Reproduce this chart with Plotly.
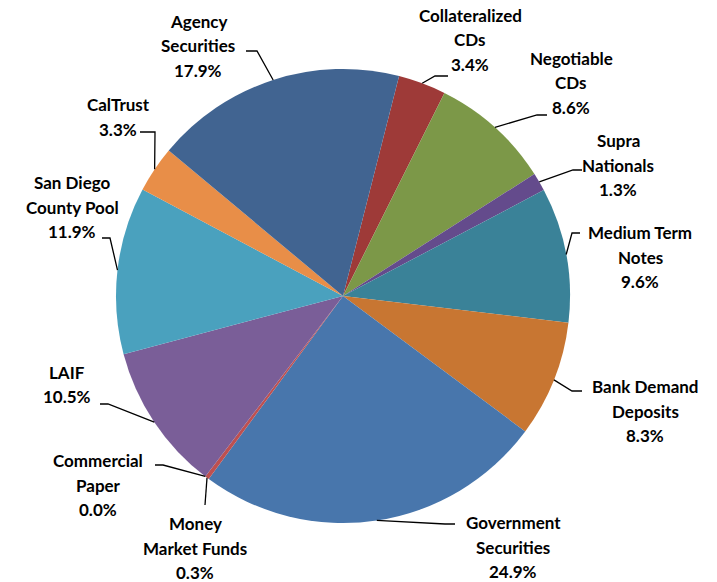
import math
import plotly.graph_objects as go

# ---- data ----
categories = ["Collateralized CDs", "Negotiable CDs", "Supra Nationals", "Medium Term Notes",
              "Bank Demand Deposits", "Government Securities", "Money Market Funds",
              "Commercial Paper", "LAIF", "San Diego County Pool", "CalTrust", "Agency Securities"]
values = [3.4, 8.6, 1.3, 9.6, 8.3, 24.9, 0.3, 0.0, 10.5, 11.9, 3.3, 17.9]
label_lines = [["Collateralized", "CDs"], ["Negotiable", "CDs"], ["Supra", "Nationals"],
               ["Medium Term", "Notes"], ["Bank Demand", "Deposits"], ["Government", "Securities"],
               ["Money", "Market Funds"], ["Commercial", "Paper"], ["LAIF"],
               ["San Diego", "County Pool"], ["CalTrust"], ["Agency", "Securities"]]
colors = ["#9E3A38", "#7C9848", "#644B8C", "#3A8298", "#C87632", "#4876AC",
          "#BE5050", "#7C9848", "#7A5E98", "#4AA1BE", "#E88E48", "#416491"]

# ---- layout (pixels) ----
W, H = 717, 582
CX, CY, R = 343, 296, 227
ROT = 14.3
LINE_H = 24.5
# label centre (x, y of middle line) and leader start/elbow points
label_pos = {
    "Collateralized CDs": (470, 40, [(448, 76), (435, 76)]),
    "Negotiable CDs": (571, 83, [(547, 115), (537, 115)]),
    "Supra Nationals": (618, 165, [(582, 170), (573, 170)]),
    "Medium Term Notes": (640, 257, [(580, 233), (572, 233)]),
    "Bank Demand Deposits": (645, 411, [(582, 391), (572, 391)]),
    "Government Securities": (513, 547, [(455, 524), (445, 524)]),
    "Money Market Funds": (195, 548, [(205, 505)]),
    "Commercial Paper": (98, 485, [(155, 465), (163, 465)]),
    "LAIF": (67, 384.5, [(100, 404), (108, 404)]),
    "San Diego County Pool": (72, 207, [(102, 238), (110, 238)]),
    "CalTrust": (118, 117, [(140, 132), (155, 132)]),
    "Agency Securities": (198, 46, [(246, 51), (257, 51)]),
}

def px(x, y):
    return x / W, 1 - y / H

fig = go.Figure(go.Pie(
    labels=categories, values=values, sort=False, direction="clockwise",
    rotation=ROT, textinfo="none", hoverinfo="label+percent",
    marker=dict(colors=colors, line=dict(width=0)),
    domain=dict(x=[(CX - R) / W, (CX + R) / W], y=[1 - (CY + R) / H, 1 - (CY - R) / H]),
    showlegend=False,
))

font = dict(family="Lato, Carlito, Calibri, sans-serif", size=17, color="#000000")
annotations, shapes = [], []
total = sum(values)
cum = 0.0
for name, v, lines in zip(categories, values, label_lines):
    mid = ROT + (cum + v / 2) / total * 360
    cum += v
    ex = CX + R * math.sin(math.radians(mid))
    ey = CY - R * math.cos(math.radians(mid))
    lx, ly, lead = label_pos[name]
    all_lines = lines + [f"{v:.1f}%"]
    n = len(all_lines)
    for i, t in enumerate(all_lines):
        yy = ly + (i - (n - 1) / 2) * LINE_H
        ax_, ay_ = px(lx, yy)
        annotations.append(dict(x=ax_, y=ay_, xref="paper", yref="paper", text=f"<b>{t}</b>",
                                showarrow=False, xanchor="center", yanchor="middle", font=font))
    pts = lead + [(ex, ey)]
    path = "M " + " L ".join(f"{px(a, b)[0]:.5f},{px(a, b)[1]:.5f}" for a, b in pts)
    shapes.append(dict(type="path", path=path, xref="paper", yref="paper",
                       line=dict(color="#000000", width=1.3)))

fig.update_layout(width=W, height=H, margin=dict(l=0, r=0, t=0, b=0),
                  paper_bgcolor="white", plot_bgcolor="white",
                  annotations=annotations, shapes=shapes)
fig.write_html("out.html")
